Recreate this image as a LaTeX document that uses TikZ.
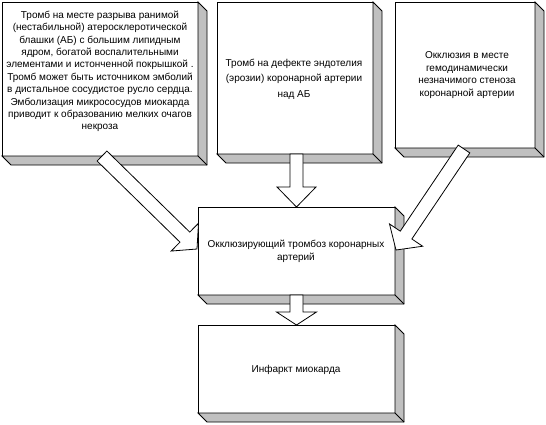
\documentclass[tikz,border=0pt]{standalone}
\usepackage{fontspec}
\setmainfont{Liberation Sans}
\usetikzlibrary{calc}
\definecolor{shadowgray}{RGB}{192,192,192}
\tikzset{
  box/.style={draw, fill=white, line width=0.8pt, inner sep=0pt, outer sep=0pt, anchor=north west},
  shadowc/.style={draw, fill=shadowgray, line width=0.8pt, line join=miter},
  txt/.style={align=center, font=\fontsize{10}{12.4}\selectfont, inner sep=0pt},
  txtwide/.style={align=center, font=\fontsize{10}{15.5}\selectfont, inner sep=0pt},
  barrow/.style={draw, fill=white, line width=0.8pt, line join=miter}
}
% #1 node name: 3D extrusion to the lower right
\newcommand\boxshadow[1]{%
  \draw[shadowc] (#1.north east) -- ++(9,9) -- ($(#1.south east)+(9,9)$)
    -- ($(#1.south west)+(9,9)$) -- (#1.south west) -- (#1.south east) -- cycle;
  \draw[line width=0.8pt] (#1.south east) -- ++(9,9);
}
% #1 tail, #2 tip, #3 shaft half width, #4 head half width, #5 head length
\newcommand\blockarrow[5]{%
  \path coordinate (ba-c) at ($(#2)!#5!(#1)$);
  \draw[barrow] ($(#1)!#3!90:(#2)$) -- ($(ba-c)!#3!90:(#2)$) -- ($(ba-c)!#4!90:(#2)$)
    -- (#2) -- ($(ba-c)!#4!-90:(#2)$) -- ($(ba-c)!#3!-90:(#2)$) -- ($(#1)!#3!-90:(#2)$) -- cycle;
}
\begin{document}
\begin{tikzpicture}[x=1pt,y=-1pt]
\useasboundingbox (0,0) rectangle (546,424);

% boxes
\node[box, minimum width=196pt, minimum height=154pt] (b1) at (2,2) {};
\boxshadow{b1}
\node[box, minimum width=156pt, minimum height=152pt] (b2) at (217,2) {};
\boxshadow{b2}
\node[box, minimum width=140pt, minimum height=146pt] (b3) at (395,2) {};
\boxshadow{b3}
\node[box, minimum width=197pt, minimum height=88pt] (bm) at (198,207) {};
\boxshadow{bm}
\node[box, minimum width=197pt, minimum height=88pt] (bb) at (198,325) {};
\boxshadow{bb}

% texts
\node[txt] (t1) at (100,71.5) {Тромб на месте разрыва ранимой\\(нестабильной) атеросклеротической\\блашки (АБ) с большим липидным\\ядром, богатой воспалительными\\элементами и истонченной покрышкой .\\Тромб может быть источником эмболий\\в дистальное сосудистое русло сердца.\\Эмболизация микрососудов миокарда\\приводит к образованию мелких очагов\\некроза};
\node[txtwide] (t2) at (294,79) {Тромб на дефекте эндотелия\\(эрозии) коронарной артерии\\над АБ};
\node[txt] (t3) at (467,75) {Окклюзия в месте\\гемодинамически\\незначимого стеноза\\коронарной артерии};
\node[txt] (tm) at (296,251.5) {Окклюзирующий тромбоз коронарных\\артерий};
\node[txt] (tb) at (296,370) {Инфаркт миокарда};

% arrow end points
\coordinate (a1t) at (102,156);
\coordinate (a1h) at (197,249);
\coordinate (a2t) at (296.5,154);
\coordinate (a2h) at (296.5,207);
\coordinate (a3t) at (464,149);
\coordinate (a3h) at (396,250);
\coordinate (a4t) at (296.5,295);
\coordinate (a4h) at (296.5,325);

\blockarrow{a1t}{a1h}{7pt}{19.5pt}{17pt}
\blockarrow{a2t}{a2h}{6.5pt}{19.5pt}{20pt}
\blockarrow{a3t}{a3h}{7pt}{20pt}{18pt}
\blockarrow{a4t}{a4h}{6.5pt}{20pt}{13pt}
\end{tikzpicture}
\end{document}
